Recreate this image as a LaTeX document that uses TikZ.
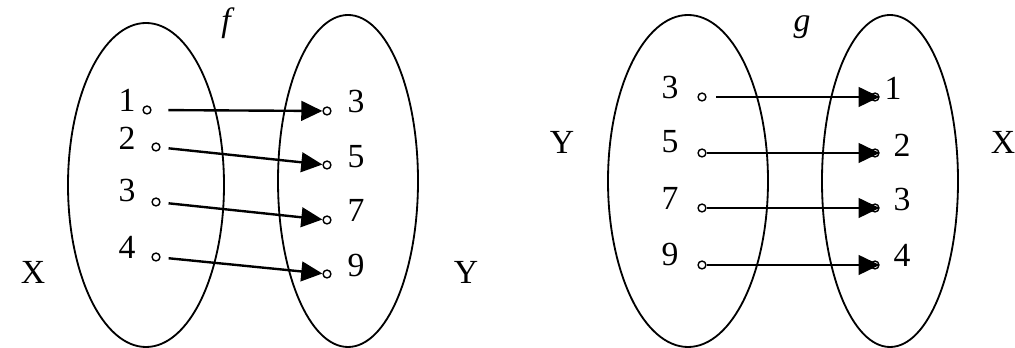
\documentclass[tikz,border=0pt]{standalone}
\usepackage{fontspec}
\setmainfont{Liberation Serif}
\usetikzlibrary{arrows.meta,positioning,shapes.geometric}

\begin{document}
\begin{tikzpicture}[
  x=0.125mm, y=-0.125mm,
  set/.style={ellipse, draw=black, line width=0.65pt, inner sep=0pt},
  pt/.style={circle, draw=black, line width=0.5pt, inner sep=0pt, minimum size=2.8pt},
  num/.style={inner sep=0pt, font=\fontsize{12}{14}\selectfont},
  mapto/.style={-{Triangle[length=7.5pt,width=7pt]}, line width=0.85pt, black}
]
  \useasboundingbox (0,0) rectangle (1015,348);

  % f : X -> Y
  \node[set, minimum width=19.5mm, minimum height=40.5mm] (fX) at (146,185) {};
  \node[set, minimum width=17.5mm, minimum height=41.5mm] (fY) at (348,181) {};
  \node[num] (fXl) at (33,272)  {X};
  \node[num] (fYl) at (466,272) {Y};
  \node[num] (fl)  at (228,23)  {\textit{f}};

  \node[num] (a1) at (127,100) {1};  \node[pt] (p1) at (147,110) {};
  \node[num] (a2) at (127,138) {2};  \node[pt] (p2) at (156,147) {};
  \node[num] (a3) at (127,191) {3};  \node[pt] (p3) at (156,202) {};
  \node[num] (a4) at (127,247) {4};  \node[pt] (p4) at (156,257) {};

  \node[num] (b1) at (356,102) {3};  \node[pt] (q1) at (327,111) {};
  \node[num] (b2) at (356,157) {5};  \node[pt] (q2) at (327,165) {};
  \node[num] (b3) at (356,210) {7};  \node[pt] (q3) at (327,220) {};
  \node[num] (b4) at (356,266) {9};  \node[pt] (q4) at (327,274) {};

  \draw[mapto, shorten <=2.1mm] (p1) -- (q1);
  \draw[mapto, shorten <=1mm]   (p2) -- (q2);
  \draw[mapto, shorten <=1mm]   (p3) -- (q3);
  \draw[mapto, shorten <=1mm]   (p4) -- (q4);

  % g : Y -> X
  \node[set, minimum width=20mm, minimum height=41.5mm] (gY) at (688,181) {};
  \node[set, minimum width=17mm, minimum height=41.5mm] (gX) at (890,181) {};
  \node[num] (gYl) at (562,142)  {Y};
  \node[num] (gXl) at (1003,142) {X};
  \node[num] (gl)  at (802,27)   {\textit{g}};

  \node[num] (c1) at (670,88)  {3};  \node[pt] (s1) at (702,97)  {};
  \node[num] (c2) at (670,142) {5};  \node[pt] (s2) at (702,153) {};
  \node[num] (c3) at (670,198) {7};  \node[pt] (s3) at (702,208) {};
  \node[num] (c4) at (670,255) {9};  \node[pt] (s4) at (702,265) {};

  \node[num] (d1) at (893,88)  {1};  \node[pt] (t1) at (875,97)  {};
  \node[num] (d2) at (902,145) {2};  \node[pt] (t2) at (875,153) {};
  \node[num] (d3) at (902,200) {3};  \node[pt] (t3) at (875,208) {};
  \node[num] (d4) at (902,255) {4};  \node[pt] (t4) at (875,265) {};

  \draw[mapto, shorten <=1.2mm] (s1) -- (t1.east);
  \draw[mapto]                  (s2) -- (t2.east);
  \draw[mapto]                  (s3) -- (t3.east);
  \draw[mapto]                  (s4) -- (t4.east);
\end{tikzpicture}
\end{document}
